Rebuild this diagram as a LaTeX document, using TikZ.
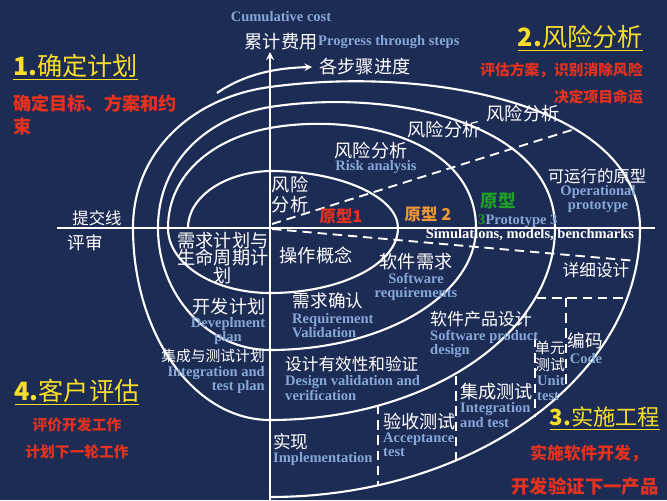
\documentclass[tikz,border=0pt]{standalone}
\usepackage{fontspec}
\setmainfont{Liberation Serif}
\newfontfamily\cjk{Noto Sans CJK SC}
\usepackage{tikz}
\usetikzlibrary{arrows,positioning}

\definecolor{navybg}{RGB}{29,44,84}
\definecolor{enblue}{RGB}{135,168,215}
\definecolor{headyellow}{RGB}{248,222,40}
\definecolor{notered}{RGB}{228,50,30}
\definecolor{protoorange}{RGB}{240,150,50}
\definecolor{protogreen}{RGB}{30,160,40}

\tikzset{
  cn/.style={text=white, inner sep=0pt, align=center, font=\cjk\fontsize{15.5}{17}\selectfont},
  en/.style={text=enblue, inner sep=0pt, font=\bfseries\fontsize{12.4}{12}\selectfont},
  head/.style={text=headyellow, inner sep=0pt, font=\cjk\fontsize{21.5}{24}\selectfont},
  note/.style={text=notered, inner sep=0pt, font=\cjk\bfseries\fontsize{12.6}{15}\selectfont},
  spiral/.style={white, line width=1.8pt},
  axisline/.style={white, line width=2pt},
  dashline/.style={white, line width=1.6pt, dash pattern=on 8pt off 5pt},
}

\begin{document}
\begin{tikzpicture}[x=0.03cm, y=-0.03cm, >=stealth]
        % Background
        \fill[navybg] (0,0) rectangle (667,500);
        \useasboundingbox (0,0) rectangle (667,500);

        % Spiral
        \draw[spiral] (188,228)
          .. controls (188,196) and (226,172) .. (270,171)
          .. controls (341,171) and (398,197) .. (398,228)
          .. controls (398,264) and (341,293) .. (270,293)
          .. controls (214,293) and (168,264) .. (168,228)
          .. controls (168,173) and (215,138) .. (270,128)
          .. controls (359,112) and (476,141) .. (476,228)
          .. controls (476,295) and (384,350) .. (270,350)
          .. controls (208,350) and (158,295) .. (158,228)
          .. controls (158,161) and (208,117) .. (270,107)
          .. controls (393,88) and (555,123) .. (555,228)
          .. controls (555,334) and (427,420) .. (270,420)
          .. controls (194,420) and (133,334) .. (133,228)
          .. controls (133,150) and (194,97) .. (270,87)
          .. controls (430,65) and (640,105) .. (640,228)
          .. controls (640,376) and (474,497) .. (270,497);

        % Axes
        \coordinate (origin) at (270,228);
        \draw[axisline, ->] (270,500) -- (270,52);
        \draw[axisline] (57,228) -- (655,228);
        \draw[spiral, ->] (217,93) .. controls (245,74) and (275,68) .. (312,67);

        % Dashed borders
        \draw[dashline] (272,224) -- (575,129);
        \draw[dashline] (272,229) -- (637,261);
        \draw[dashline] (537,298) -- (627,298);
        \draw[dashline] (566,298) -- (566,387);
        \draw[dashline] (535,338) -- (535,417);
        \draw[dashline] (456,376) -- (456,460);
        \draw[dashline] (378,405) -- (378,485);

        % Axis labels
        \node[en] (cumcost) at (281,17) {Cumulative cost};
        \node[cn] (leiji) at (281,42) {累计费用};
        \node[en, anchor=west] (progen) at (318,42) {Progress through steps};
        \node[cn] (bujin) at (365,67) {各步骤进度};

        % Quadrant 1
        \node[head, anchor=west] (plan) at (13,67) {\underline{\textbf{1.}确定计划}};
        \node[note, anchor=west, align=left, font=\cjk\bfseries\fontsize{15.5}{19.5}\selectfont] (plannote) at (13,115) {确定目标、方案和约\\束};

        % Quadrant 2
        \node[head, anchor=east] (risk) at (643,38) {\underline{\textbf{2.}风险分析}};
        \node[note, anchor=east] (risknote) at (643,70) {评估方案，识别消除风险};
        \node[note, anchor=east] (fatenote) at (643,97) {决定项目命运};

        \node[cn] (risk3) at (523,114) {风险分析};
        \node[cn] (risk2) at (444,130) {风险分析};
        \node[cn] (risk1) at (371,151) {风险分析};
        \node[en] (risken) at (376,167) {Risk analysis};
        \node[cn] (risk0) at (290,195) {风险\\分析};
        \node[text=notered, inner sep=0pt, font=\cjk\bfseries\fontsize{14}{16}\selectfont] (proto1) at (341,216) {原型1};
        \node[text=protoorange, inner sep=0pt, font=\cjk\bfseries\fontsize{14}{16}\selectfont] (proto2) at (428,214) {原型 2};
        \node[text=protogreen, inner sep=0pt, font=\cjk\bfseries\fontsize{15}{16}\selectfont] (proto3) at (498,201) {原型};
        \node[en, anchor=west] (proto3en) at (478,221) {{\color{protogreen}3}Prototype 3};
        \node[cn, font=\cjk\fontsize{14}{16}\selectfont] (oper) at (597,176) {可运行的原型};
        \node[en, align=center] (operen) at (598,199) {Operational\\prototype};
        \node[text=white, inner sep=0pt, font=\bfseries\fontsize{12.4}{12}\selectfont] (sim) at (530,235) {Simulations, models, benchmarks};

        % Review line
        \node[cn, font=\cjk\fontsize{14}{16}\selectfont] (tijiao) at (97,218) {提交线};
        \node[cn, font=\cjk\fontsize{15}{16}\selectfont] (pingshen) at (85,243) {评审};

        % Quadrant 3
        \node[cn, font=\cjk\fontsize{15.5}{14.8}\selectfont] (reqplan) at (223,258) {需求计划与\\生命周期计\\划};
        \node[cn] (opcon) at (316,255) {操作概念};
        \node[cn] (swreq) at (416,262) {软件需求};
        \node[en, align=center] (swreqen) at (416,287) {Software\\requirements};
        \node[cn, font=\cjk\fontsize{14.2}{16}\selectfont] (detail) at (596,270) {详细设计};
        \node[cn] (devplan) at (229,307) {开发计划};
        \node[en, align=center] (devplanen) at (228,331) {Deveplment\\plan};
        \node[cn, font=\cjk\fontsize{15}{16}\selectfont] (reqval) at (328,301) {需求确认};
        \node[en, align=left, anchor=west] (reqvalen) at (292,326) {Requirement\\Validation};
        \node[cn, font=\cjk\fontsize{14.5}{16}\selectfont] (swdes) at (481,319) {软件产品设计};
        \node[en, align=left, anchor=west] (swdesen) at (430,344) {Software product\\design};
        \node[cn, font=\cjk\fontsize{12.7}{14.5}\selectfont] (unit) at (550,356) {单元\\测试};
        \node[en, align=left, anchor=west] (uniten) at (537,388) {Unit\\test};
        \node[cn, font=\cjk\fontsize{15}{16}\selectfont] (code) at (585,341) {编码};
        \node[en] (codeen) at (586,359) {Code};
        \node[cn, anchor=east, font=\cjk\fontsize{12.6}{15}\selectfont] (itplan) at (265,356) {集成与测试计划};
        \node[en, align=right, anchor=east] (itplanen) at (265,380) {Integration and\\test plan};
        \node[cn, anchor=west, font=\cjk\fontsize{14.2}{16}\selectfont] (desval) at (285,364) {设计有效性和验证};
        \node[en, align=left, anchor=west] (desvalen) at (285,388) {Design validation and\\verification};
        \node[cn, anchor=west] (itest) at (460,392) {集成测试};
        \node[en, align=left, anchor=west] (itesten) at (460,415) {Integration\\and test};
        \node[cn, anchor=west] (acc) at (383,422) {验收测试};
        \node[en, align=left, anchor=west] (accen) at (383,445) {Acceptance\\test};
        \node[cn, anchor=west, font=\cjk\fontsize{15}{16}\selectfont] (impl) at (273,442) {实现};
        \node[en, anchor=west] (implen) at (273,459) {Implementation};

        \node[head, font=\cjk\fontsize{19}{22}\selectfont] (build) at (605,418) {\underline{\textbf{3.}实施工程}};
        \node[note, font=\cjk\bfseries\fontsize{14.3}{16}\selectfont] (buildnote) at (589,453) {实施软件开发，};
        \node[note, font=\cjk\bfseries\fontsize{15.7}{17}\selectfont] (nextnote) at (585,487) {开发验证下一产品};

        % Quadrant 4
        \node[head] (eval) at (77,392) {\underline{\textbf{4.}客户评估}};
        \node[note] (evalnote) at (77,425) {评价开发工作};
        \node[note] (roundnote) at (77,452) {计划下一轮工作};
    \end{tikzpicture}
\end{document}
